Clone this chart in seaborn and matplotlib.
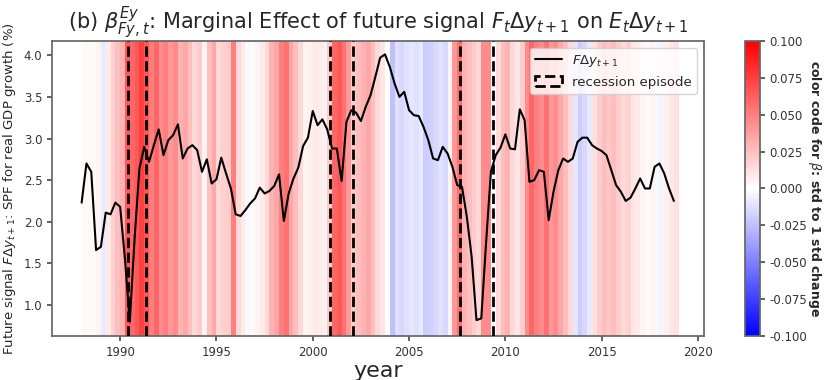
import numpy as np
import pandas as pd
import matplotlib
matplotlib.use("Agg")
import matplotlib.pyplot as plt
from matplotlib.patches import Patch
from matplotlib.lines import Line2D
import seaborn as sns

# Quarterly SPF forecast of next-year real GDP growth (%), 1988Q1 .. 2018Q4
start_year = 1988.0
spf_growth = [
    2.23, 2.70, 2.60, 1.66, 1.70, 2.11, 2.09, 2.23, 2.18, 1.55,
    0.80, 1.80, 2.64, 2.90, 2.72, 2.92, 3.11, 2.80, 2.98, 3.04,
    3.17, 2.76, 2.88, 2.92, 2.86, 2.60, 2.75, 2.46, 2.51, 2.77,
    2.58, 2.40, 2.09, 2.07, 2.14, 2.22, 2.28, 2.41, 2.34, 2.37,
    2.43, 2.57, 2.01, 2.34, 2.52, 2.65, 2.91, 3.01, 3.33, 3.16,
    3.23, 3.11, 2.88, 2.88, 2.49, 3.20, 3.34, 3.31, 3.21, 3.38,
    3.52, 3.74, 3.97, 4.01, 3.86, 3.66, 3.50, 3.56, 3.34, 3.28,
    3.27, 3.14, 2.98, 2.76, 2.74, 2.90, 2.82, 2.66, 2.44, 2.42,
    2.06, 1.58, 0.82, 0.84, 1.75, 2.60, 2.80, 2.89, 3.05, 2.88,
    2.87, 3.35, 3.22, 2.48, 2.50, 2.62, 2.60, 2.02, 2.36, 2.62,
    2.76, 2.72, 2.76, 2.96, 3.01, 3.01, 2.92, 2.88, 2.85, 2.80,
    2.62, 2.44, 2.36, 2.25, 2.29, 2.40, 2.52, 2.40, 2.40, 2.66,
    2.70, 2.58, 2.40, 2.25,
]

# Time-varying marginal effect beta (std to 1 std change), one per quarter
beta = [
    0.002, 0.003, 0.002, 0.004, -0.008, 0.008, 0.018, 0.025, 0.030, 0.065,
    0.060, 0.065, 0.075, 0.065, 0.050, 0.060, 0.045, 0.050, 0.040, 0.045,
    0.030, 0.035, 0.025, 0.015, 0.020, 0.005, 0.025, 0.035, 0.015, 0.018,
    0.020, 0.050, 0.015, 0.008, -0.003, 0.002, 0.005, 0.008, 0.015, 0.030,
    0.035, 0.050, 0.055, 0.035, 0.025, 0.015, 0.005, 0.006, 0.008, 0.008,
    0.006, 0.020, 0.060, 0.065, 0.055, 0.040, 0.020, 0.025, 0.030, 0.035,
    0.025, 0.015, 0.010, 0.000, -0.025, -0.012, -0.015, -0.012, -0.010, -0.012,
    -0.008, -0.020, -0.018, -0.015, -0.012, -0.015, 0.004, 0.040, 0.055, 0.030,
    0.025, 0.020, 0.015, 0.045, 0.045, 0.000, 0.015, 0.025, 0.030, 0.015,
    0.010, 0.020, 0.045, 0.060, 0.050, 0.045, 0.055, 0.040, 0.045, 0.035,
    0.025, 0.015, -0.010, -0.020, -0.015, -0.008, 0.012, 0.020, 0.025, 0.022,
    0.025, 0.020, 0.015, 0.018, 0.010, 0.008, 0.004, 0.002, 0.004, -0.003,
    -0.004, 0.006, 0.010, 0.012,
]

# Recession episode boundaries (year)
recession_dates = [1990.4, 1991.35, 2000.9, 2002.1, 2007.65, 2009.35]

x_ticks = [1990, 1995, 2000, 2005, 2010, 2015, 2020]
cbar_ticks = [-0.100, -0.075, -0.050, -0.025, 0.000, 0.025, 0.050, 0.075, 0.100]

quarters = start_year + 0.25 * np.arange(len(spf_growth))
df = pd.DataFrame({"year": quarters, "spf": spf_growth})

sns.set_theme(style="ticks")
plt.rcParams["font.family"] = ["DejaVu Sans"]
plt.rcParams["mathtext.fontset"] = "dejavusans"

fig = plt.figure(figsize=(8.25, 3.8), dpi=100)
ax = fig.add_axes([0.063, 0.116, 0.790, 0.776])
cax = fig.add_axes([0.903, 0.116, 0.018, 0.776])

# background stripes, one per quarter, coloured by beta
edges = start_year + 0.25 * np.arange(len(beta) + 1)
mesh = ax.pcolormesh(edges, [0, 1], np.array(beta)[None, :],
                     cmap="bwr", vmin=-0.1, vmax=0.1,
                     transform=ax.get_xaxis_transform(), zorder=0)

sns.lineplot(data=df, x="year", y="spf", color="black", linewidth=1.5,
             ax=ax, zorder=3, legend=False)

for d in recession_dates:
    ax.axvline(d, color="black", linestyle="--", linewidth=2, zorder=4)

ax.set_xlim(1986.46, 2020.3)
ax.set_ylim(0.63, 4.17)
ax.set_xticks(x_ticks)
ax.set_yticks([1.0, 1.5, 2.0, 2.5, 3.0, 3.5, 4.0])
ax.tick_params(labelsize=8.5, length=3.5, color="0.3", labelcolor="0.2")
for s in ax.spines.values():
    s.set_color("0.4")

ax.set_xlabel("year", fontsize=16, labelpad=2)
ax.set_ylabel(r"Future signal $F\Delta y_{t+1}$: SPF for real GDP growth (%)",
              fontsize=9.5, labelpad=4)
ax.set_title(r"(b) $\beta^{Ey}_{Fy,t}$: Marginal Effect of future signal "
             r"$F_t\Delta y_{t+1}$ on $E_t\Delta y_{t+1}$",
             fontsize=15, pad=6)

handles = [
    Line2D([0], [0], color="black", linewidth=1.5),
    Patch(facecolor="none", edgecolor="black", linestyle="--", linewidth=2),
]
ax.legend(handles, [r"$F\Delta y_{t+1}$", "recession episode"],
          loc="upper right", fontsize=9.5, frameon=True, framealpha=0.8)

cb = fig.colorbar(mesh, cax=cax, ticks=cbar_ticks, format="%.3f")
cb.ax.tick_params(labelsize=8.5, length=3.5, color="0.3", labelcolor="0.2")
cb.outline.set_edgecolor("0.4")
cb.set_label(r"color code for $\beta$: std to 1 std change",
             rotation=270, fontsize=9, fontweight="bold", labelpad=11)

fig.savefig("out.png", dpi=100)
